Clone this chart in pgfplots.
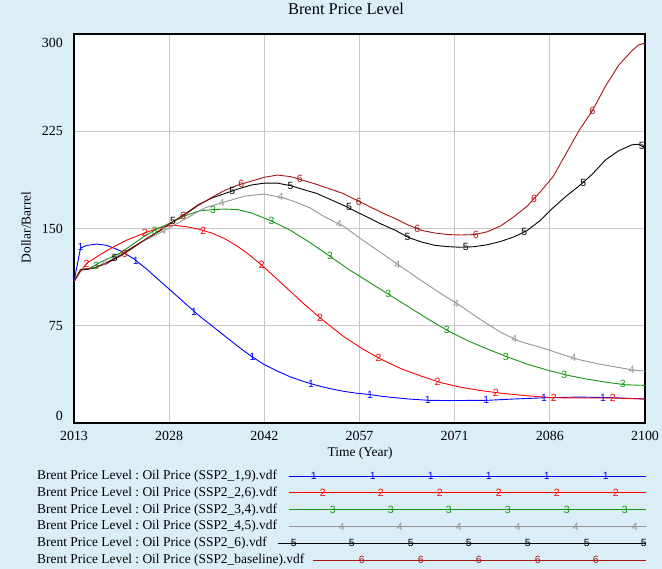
\documentclass[border=0pt]{standalone}
\usepackage{fontspec}
\setmainfont{Liberation Serif}
\newfontfamily\marksans{Liberation Sans}
\usepackage{pgfplots}
\pgfplotsset{compat=1.18}
\frenchspacing
\definecolor{bgblue}{RGB}{219,238,248}
\definecolor{sblue}{RGB}{0,0,255}
\definecolor{sred}{RGB}{255,0,0}
\definecolor{sgreen}{RGB}{20,150,20}
\definecolor{sgray}{RGB}{150,150,150}
\definecolor{sblack}{RGB}{0,0,0}
\definecolor{sdark}{RGB}{165,20,20}
\newcommand\legrow[4]{%
  \draw[#1, line width=0.9bp, overlay] (-#4 bp,0) -- (0,0);
  \draw[#1, line width=0.9bp] (0,0) -- (333bp,0);
  \foreach \p in {#3} {\node[overlay, text=#1, font=\marksans\fontsize{10.5}{10.5}\selectfont, inner sep=0pt, text height=7.5bp, text depth=0pt, anchor=center] at (\p bp,0) {#2};}%
}
\pgfplotsset{
  mk/.style={draw=none, forget plot, nodes near coords={#1},
    every node near coord/.style={anchor=center, inner sep=0pt, font=\marksans\fontsize{10.5}{10.5}\selectfont}},
  ln/.style={line width=0.9bp, forget plot}
}
\begin{document}
\begin{tikzpicture}
\fill[bgblue] (0,0) rectangle (662bp,569bp);
\begin{axis}[
  at={(74bp,146bp)}, anchor=south west,
  scale only axis, width=571bp, height=389bp,
  xmin=2013, xmax=2100, ymin=0, ymax=300,
  axis background/.style={fill=white},
  xtick={2013,2027.5,2042,2056.5,2071,2085.5,2100},
  xticklabels={2013,2028,2042,2057,2071,2086,2100},
  ytick={0,75,150,225,300},
  yticklabels={\raisebox{7bp}[\height][\depth]{0},75,150,225,\raisebox{-9bp}[\height][\depth]{300}},
  major tick length=0pt,
  grid=major, grid style={draw={rgb,255:red,200;green,200;blue,200}, line width=0.8bp},
  axis line style={line width=1.6bp},
  tick label style={font=\fontsize{14}{14}\selectfont, inner sep=0pt},
  xticklabel style={anchor=north, yshift=-8.5bp},
  yticklabel style={anchor=east, xshift=-11bp},
  xlabel={Time (Year)},
  xlabel style={at={(axis description cs:0.501,-0.077)}, anchor=center, font=\fontsize{13.5}{14}\selectfont},
  ylabel={Dollar/Barrel},
  ylabel style={at={(axis description cs:-0.084,0.5026)}, anchor=center, rotate=0, font=\fontsize{13.5}{14}\selectfont},
  title={Brent Price Level},
  title style={at={(axis description cs:0.4764,1.0488)}, anchor=center, font=\fontsize{16.5}{18}\selectfont},
  legend plot pos=right,
  legend style={at={(axis description cs:-0.0648,-0.1189)}, anchor=north west, draw=none, fill=none, inner sep=0pt,
    row sep=3.8bp, column sep=8bp, font=\fontsize{13.5}{15}\selectfont\frenchspacing,
    cells={anchor=west}, nodes={inner sep=0pt, text height=10bp, text depth=3bp}},
]
% 1 blue
\addplot[ln, sblue] coordinates {(2013,109)(2014,135)(2015,137)(2016.5,138)(2018,137)(2020,133)(2022,127)(2024,119)(2026,110)(2028,101)(2030,92)(2032,83)(2034,75)(2036,67)(2038,59)(2040,51.5)(2042,45)(2044,40)(2046,35.5)(2048,32)(2050,29)(2052,26.5)(2054,24.5)(2056,23)(2058,22)(2060,20.5)(2062,19.5)(2064,18.5)(2067,17.5)(2070,17.3)(2076,17.5)(2080,18.5)(2085,19.5)(2090,20)(2095,19.5)(2100,18.5)};
\addplot[mk=1, sblue] coordinates {(2014,135.5)(2022.4,125)(2031.3,86)(2040.2,51)(2049.1,30.5)(2058.1,22)(2066.9,17.5)(2075.8,17.5)(2084.6,19.4)(2093.6,19.6)};
% 2 red
\addplot[ln, sred] coordinates {(2013,109)(2014,117)(2015,123.5)(2018,133)(2021,141)(2024,147)(2026,150.5)(2028,152.5)(2030,151.5)(2032,149.5)(2034,146.5)(2036,142)(2038,136)(2040,128.5)(2042,120)(2045,106)(2048,92)(2051,79)(2054,67)(2057,57)(2060,48.6)(2063,41.5)(2066,36)(2069,31)(2072,27.5)(2075,25)(2078,23)(2082,21)(2086,19.5)(2090,19.3)(2095,19.3)(2100,18.5)};
\addplot[mk=2, sred] coordinates {(2014.9,123)(2023.8,146.5)(2032.7,148.5)(2041.6,122)(2050.5,81)(2059.4,50.5)(2068.4,31.8)(2077.3,23.5)(2086.1,19.5)(2095.1,19.3)};
% 3 green
\addplot[ln, sgreen] coordinates {(2013,109)(2014,118.5)(2015.4,119.3)(2017,124)(2020,131)(2022,138)(2024,145)(2026,150.5)(2028,155)(2030,160)(2032,163.5)(2034,164.5)(2036,165)(2038,164.5)(2040,162)(2043,156)(2046,148.5)(2049,139)(2052,128.5)(2055,118)(2058,108.5)(2061,99)(2064,89.5)(2067,80)(2070,71)(2073,63.5)(2076,57)(2079,51)(2082,45.5)(2085,41)(2088,37)(2091,34)(2094,31.5)(2097,29.5)(2100,29)};
\addplot[mk=3, sgreen] coordinates {(2016.4,121.5)(2025.3,148.5)(2034.2,164.5)(2043.1,156)(2052,128.5)(2060.9,99.3)(2069.8,71.5)(2078.8,51.3)(2087.7,37.4)(2096.6,29.8)};
% 4 gray
\addplot[ln, sgray] coordinates {(2013,109)(2014,118)(2015,118.5)(2016,119.5)(2018,124)(2020,130)(2022,136)(2024,141.5)(2027,149)(2030,157.5)(2033,166)(2036,170.5)(2039,175)(2042,176.6)(2045,173.5)(2047,170)(2049,165.8)(2051,159.5)(2054,152)(2057,141)(2060,130.5)(2063,120)(2066,109.5)(2069,99.5)(2072,90)(2075,79.5)(2078,70)(2081,62.7)(2084,58.5)(2087,53.5)(2090,48.8)(2093,45.5)(2096,42.8)(2098,41)(2100,40)};
\addplot[mk=4, sgray] coordinates {(2017.7,123.5)(2026.6,148)(2035.5,170)(2044.5,174)(2053.4,153.5)(2062.3,122.3)(2071.2,91.5)(2080.1,65)(2089.1,50)(2098,41)};
% 5 black
\addplot[ln, sblack] coordinates {(2013,109)(2014,118)(2015,118.5)(2016,119.5)(2018,123.5)(2020,129)(2022,135.5)(2024,142)(2026,148)(2028,155)(2030,161.5)(2032,168.5)(2034,173.5)(2036,177)(2038,180.5)(2040,183.5)(2042,185)(2044,185)(2046,183)(2048,180)(2050,177)(2052,172.5)(2054,168)(2056,163)(2058,158)(2060,153)(2062,148.5)(2064,143)(2066,139.5)(2068,137)(2070,136)(2072,135.5)(2074,136)(2076,137.5)(2078,140)(2080,143.5)(2082,148.3)(2084,156)(2086,166)(2088,175)(2090,183)(2092,192)(2094,203)(2096,210)(2098,214.5)(2099,215)(2100,212)};
\addplot[mk=5, sblack] coordinates {(2019.2,127)(2028.1,155.5)(2037.1,179)(2046,183)(2054.9,166.5)(2063.8,143.5)(2072.7,135.5)(2081.6,147)(2090.6,185)(2099.5,213.5)};
% 6 dark red
\addplot[ln, sdark] coordinates {(2013,109)(2014,118)(2015,119)(2016,119.5)(2018,123)(2020,128.5)(2022,135)(2024,142)(2026,148.5)(2028,155)(2030,161)(2032,168)(2034,174)(2036,179.5)(2038,183.5)(2040,186.5)(2042,189.5)(2044,191.2)(2046,190)(2048,187)(2050,184)(2052,180.5)(2054,177)(2056,172)(2058,167)(2060,162)(2062,157.5)(2064,152.5)(2066,148.5)(2068,146.5)(2070,145.3)(2072,145)(2074,145.3)(2076,147.5)(2078,152)(2080,159)(2082,167)(2084,178)(2086,190)(2088,208)(2090,226)(2092,241)(2094,260)(2096,276)(2098,287)(2099,291.5)(2100,293)};
\addplot[mk=6, sdark] coordinates {(2020.7,130.5)(2029.6,160)(2038.5,184.5)(2047.4,188)(2056.4,170.5)(2065.3,149.5)(2074.2,145.3)(2083.1,173)(2092,241)};
% legend
\addlegendimage{legend image code/.code={\legrow{sblue}{1}{1,60,118,176,234,293}{24}}}
\addlegendentry{Brent Price Level : Oil Price (SSP2\_1,9).vdf}
\addlegendimage{legend image code/.code={\legrow{sred}{2}{10,68,127,186,244,303}{24}}}
\addlegendentry{Brent Price Level : Oil Price (SSP2\_2,6).vdf}
\addlegendimage{legend image code/.code={\legrow{sgreen}{3}{20,78,136,195,254,312}{24}}}
\addlegendentry{Brent Price Level : Oil Price (SSP2\_3,4).vdf}
\addlegendimage{legend image code/.code={\legrow{sgray}{4}{29,87,146,205,263,322}{24}}}
\addlegendentry{Brent Price Level : Oil Price (SSP2\_4,5).vdf}
\addlegendimage{legend image code/.code={\legrow{sblack}{5}{-19,39,98,156,215,274,331}{35}}}
\addlegendentry{Brent Price Level : Oil Price (SSP2\_6).vdf}
\addlegendimage{legend image code/.code={\legrow{sdark}{6}{49,108,166,225,283}{0}}}
\addlegendentry{Brent Price Level : Oil Price (SSP2\_baseline).vdf}
\end{axis}
\pgfresetboundingbox
\useasboundingbox (0,0) rectangle (662bp,569bp);
\end{tikzpicture}
\end{document}
